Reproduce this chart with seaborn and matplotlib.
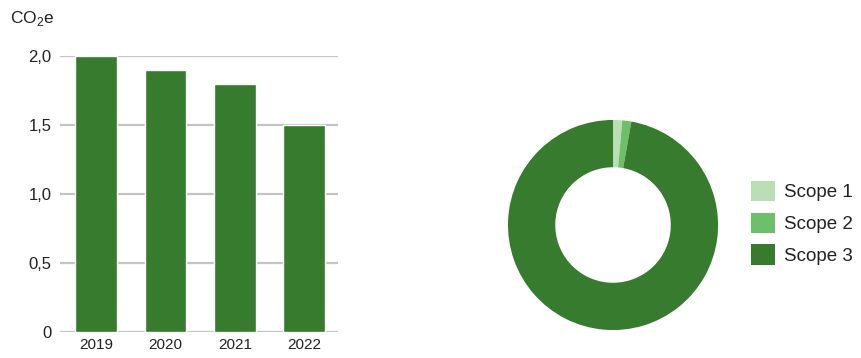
import matplotlib
matplotlib.use('Agg')
import matplotlib.pyplot as plt
import seaborn as sns
import pandas as pd

years = ['2019', '2020', '2021', '2022']
emissions = [2.0, 1.9, 1.8, 1.5]
ytick_vals = [0, 0.5, 1.0, 1.5, 2.0]
ytick_labels = ['0', '0,5', '1,0', '1,5', '2,0']

scopes = ['Scope 1', 'Scope 2', 'Scope 3']
scope_share = [1.4, 1.4, 97.2]
scope_colors = ['#badfb5', '#6dbf69', '#367b2e']
bar_color = '#367b2e'

sns.set_style('white')
plt.rcParams['font.family'] = ['Liberation Sans', 'DejaVu Sans']

fig = plt.figure(figsize=(8.61, 3.58), dpi=100)
ax = fig.add_axes([0.0697, 0.0726, 0.323, 0.771])

df = pd.DataFrame({'year': years, 'value': emissions})
sns.barplot(data=df, x='year', y='value', color=bar_color, width=0.6,
            saturation=1, ax=ax, zorder=3)
ax.set_xlim(-0.52, 3.49)
ax.set_ylim(0, 2.0)
ax.set_yticks(ytick_vals, ytick_labels)
ax.yaxis.grid(True, color='#c4c4c4', linewidth=1.6, zorder=0)
ax.set_axisbelow(True)
for s in ax.spines.values():
    s.set_visible(False)
ax.tick_params(axis='y', length=0, labelsize=12, labelcolor='#222222', pad=6)
ax.tick_params(axis='x', length=0, labelsize=11, labelcolor='#222222', pad=4)
ax.set_xlabel('')
ax.set_ylabel('')

fig.text(10/861, 1 - 19/358, r'CO$_\mathregular{2}$e', fontsize=12.5,
         color='#222222', va='center', ha='left')

ax2 = fig.add_axes([0.590, 0.078, 0.244, 0.587])
wedges, _ = ax2.pie(scope_share, colors=scope_colors, startangle=90,
                    counterclock=False,
                    wedgeprops=dict(width=0.45, linewidth=0))
ax2.set_xlim(-1, 1)
ax2.set_ylim(-1, 1)
ax2.set_aspect('equal')
ax2.legend(wedges, scopes, loc='center left', bbox_to_anchor=(1.075, 0.51),
           frameon=False, fontsize=13.5, handlelength=1.3, handleheight=1.3,
           handletextpad=0.45, labelspacing=0.6, labelcolor='#222222')

plt.savefig('out.png', dpi=100)
plt.close()
